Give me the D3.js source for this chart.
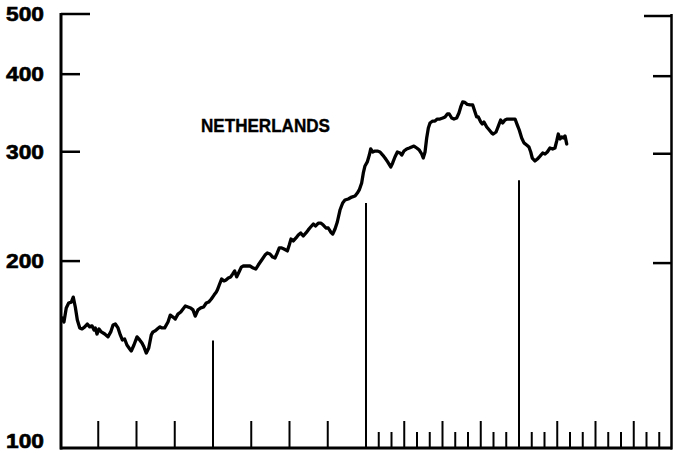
<!DOCTYPE html>
<html>
<head>
    <script src="https://cdn.jsdelivr.net/npm/d3@7"></script>
    <style>
        body { margin: 0; background: #fff; }
    </style>
</head>
<body>
<svg id="visSvg"></svg>
<script>
    // Series: month index (0..48 over four years) and index value
    const months = [
        0.16,0.31,0.49,0.68,0.89,1.04,1.20,1.36,1.55,1.73,1.94,2.14,2.33,2.51,2.67,2.77,2.90,3.06,3.24,3.51,
        3.76,3.98,4.16,4.34,4.55,4.73,4.89,5.07,5.25,5.47,5.59,5.80,6.04,6.25,6.43,6.59,6.77,6.96,7.16,7.29,
        7.47,7.63,7.82,8.00,8.21,8.47,8.65,8.86,9.04,9.25,9.47,9.65,9.83,10.04,10.25,10.43,10.61,10.82,11.04,11.27,
        11.47,11.66,11.87,12.08,12.26,
        12.34,12.49,12.68,12.86,13.02,13.20,13.39,13.55,13.70,13.86,14.04,14.22,14.38,14.64,14.90,15.16,15.35,15.55,15.82,16.08,
        16.26,16.47,16.68,16.86,17.04,17.20,17.39,17.57,17.83,17.98,18.12,18.30,18.51,18.69,18.88,19.08,19.29,19.47,19.66,19.87,
        20.05,20.26,20.45,20.65,20.86,21.04,21.23,21.39,21.57,21.75,21.96,22.17,22.35,22.61,22.88,23.14,23.32,23.47,
        23.66,23.79,23.92,24.10,24.26,24.37,24.53,24.71,24.89,25.10,25.31,25.49,25.70,25.94,26.09,26.27,26.46,26.67,26.80,26.98,
        27.19,27.40,27.58,27.76,27.98,28.18,28.37,28.49,28.63,28.76,28.89,29.02,29.23,29.41,29.59,29.80,30.02,30.20,30.38,30.53,
        30.72,30.90,31.11,31.29,31.43,31.58,31.76,31.95,32.16,32.37,
        32.55,32.68,32.81,33.00,33.12,33.25,33.47,33.67,33.86,33.98,34.20,34.38,34.56,34.72,34.90,35.08,35.29,35.51,35.69,35.87,
        36.02,36.21,36.39,36.60,36.78,36.92,37.04,37.25,37.44,37.65,37.86,38.04,38.22,38.43,38.64,38.82,38.96,39.08,39.22,39.35,
        39.47,39.61,39.74
    ];
    const values = [
        161.9,159.6,168.1,171.2,171.8,175.0,168.7,160.8,156.1,155.5,156.7,158.4,156.7,157.3,154.9,156.1,152.6,155.5,153.8,152.6,
        151.0,153.8,157.8,158.4,156.1,152.1,149.3,149.8,146.5,144.4,143.3,146.5,151.0,149.3,147.6,145.4,142.2,144.9,152.1,153.8,
        154.4,155.5,156.7,156.1,156.1,159.6,163.7,162.5,161.3,164.3,165.6,167.5,169.3,168.7,168.1,166.9,163.1,166.9,168.1,168.7,
        171.2,171.8,173.8,176.3,178.3,
        179.6,183.0,187.2,185.8,186.5,187.9,188.6,190.7,192.8,188.6,192.1,195.6,196.4,196.4,196.4,194.9,194.2,197.1,200.8,204.5,
        206.1,205.3,203.0,202.3,206.1,210.0,210.0,209.2,207.7,212.3,217.1,215.5,217.9,220.3,222.0,219.5,222.0,224.5,226.9,229.5,
        227.8,230.3,230.3,228.6,226.1,226.1,222.8,221.1,225.3,231.2,241.7,248.1,250.8,251.8,253.6,254.6,257.4,260.4,
        267.2,277.3,284.6,288.9,296.3,303.1,299.7,300.8,300.8,299.7,296.3,293.1,288.9,283.5,287.8,294.2,299.7,298.6,296.3,300.8,
        303.1,304.2,305.3,306.4,304.2,301.9,297.5,293.1,299.7,315.7,327.6,333.7,336.2,336.2,338.7,338.7,340.0,341.3,345.1,345.1,
        340.0,338.7,340.0,346.4,354.2,360.8,360.2,357.5,356.9,356.9,
        347.7,341.3,341.3,335.0,332.5,335.0,328.8,325.2,321.6,320.4,322.8,330.0,337.5,333.8,337.5,338.7,338.7,338.7,338.7,331.2,
        325.2,315.7,310.0,307.6,305.3,299.7,293.1,289.9,292.0,295.2,298.6,297.5,299.7,304.2,303.1,304.2,312.3,320.4,314.5,316.9,
        315.7,318.1,308.8
    ];

    // Year boundary markers and the height they reach
    const yearMarks = [12, 24, 36];
    const yearMarkValues = [149, 248, 270];

    const yTicks = [100, 200, 300, 400, 500];
    const title = "NETHERLANDS";

    /* Layout constants */
    let width = 673,
        height = 453;

    let svg = d3.select("#visSvg")
        .attr("width", width)
        .attr("height", height);

    let x = d3.scaleLinear().domain([0, 48]).range([60, 672]);
    let y = d3.scaleLog().domain([100, 500]).range([448, 14]);

    let ink = "#000";

    // Left and right frames
    svg.append("line")
        .attr("x1", x(0) + 1).attr("x2", x(0) + 1)
        .attr("y1", y(500) - 1).attr("y2", y(100) + 1.5)
        .attr("stroke", ink).attr("stroke-width", 3);
    svg.append("line")
        .attr("x1", x(48) - 0.5).attr("x2", x(48) - 0.5)
        .attr("y1", y(500)).attr("y2", y(100) + 1.5)
        .attr("stroke", ink).attr("stroke-width", 2.5);

    // Bottom axis
    svg.append("line")
        .attr("x1", x(0)).attr("x2", x(48))
        .attr("y1", y(100)).attr("y2", y(100))
        .attr("stroke", ink).attr("stroke-width", 3);

    // Value ticks on both sides
    svg.append("g").selectAll("line")
        .data(yTicks.filter(d => d > 100))
        .join("line")
        .attr("x1", x(0) + 1)
        .attr("x2", d => d === 500 ? x(0) + 30 : x(0) + 20)
        .attr("y1", d => y(d)).attr("y2", d => y(d))
        .attr("stroke", ink).attr("stroke-width", 2.5);

    svg.append("g").selectAll("line")
        .data(yTicks.filter(d => d > 100))
        .join("line")
        .attr("x1", d => d === 500 ? x(48) - 28 : x(48) - 19)
        .attr("x2", x(48))
        .attr("y1", d => y(d) + 2).attr("y2", d => y(d) + 2)
        .attr("stroke", ink).attr("stroke-width", 2.5);

    svg.append("g").selectAll("text")
        .data(yTicks)
        .join("text")
        .attr("x", 44)
        .attr("y", d => Math.min(y(d), 441))
        .attr("dy", "0.36em")
        .attr("text-anchor", "end")
        .attr("font-family", "Liberation Sans, Arial, sans-serif")
        .attr("font-weight", "bold")
        .attr("font-size", 19.5)
        .attr("stroke", ink)
        .attr("stroke-width", 0.6)
        .attr("textLength", 38)
        .attr("lengthAdjust", "spacingAndGlyphs")
        .text(d => d);

    // Time ticks: quarterly for the first two years, monthly after
    let tickMonths = d3.range(1, 48).filter(m => m % 12 !== 0 && (m > 24 || m % 3 === 0));
    svg.append("g").selectAll("line")
        .data(tickMonths)
        .join("line")
        .attr("x1", d => x(d)).attr("x2", d => x(d))
        .attr("y1", y(100))
        .attr("y2", d => d % 3 === 0 ? y(100) - 27 : y(100) - 16)
        .attr("stroke", ink).attr("stroke-width", 2);

    // Year markers
    svg.append("g").selectAll("line")
        .data(yearMarks)
        .join("line")
        .attr("x1", d => x(d)).attr("x2", d => x(d))
        .attr("y1", y(100))
        .attr("y2", (d, i) => y(yearMarkValues[i]))
        .attr("stroke", ink).attr("stroke-width", 2);

    // The series
    let line = d3.line()
        .x((d, i) => x(months[i]))
        .y(d => y(d));

    svg.append("path")
        .datum(values)
        .attr("d", line)
        .attr("fill", "none")
        .attr("stroke", ink)
        .attr("stroke-width", 3.3)
        .attr("stroke-linejoin", "round")
        .attr("stroke-linecap", "round");

    svg.append("text")
        .attr("x", 201)
        .attr("y", 132)
        .attr("font-family", "Liberation Sans, Arial, sans-serif")
        .attr("font-weight", "bold")
        .attr("font-size", 19)
        .attr("stroke", ink)
        .attr("stroke-width", 0.4)
        .attr("textLength", 129)
        .attr("lengthAdjust", "spacingAndGlyphs")
        .text(title);
</script>
</body>
</html>
